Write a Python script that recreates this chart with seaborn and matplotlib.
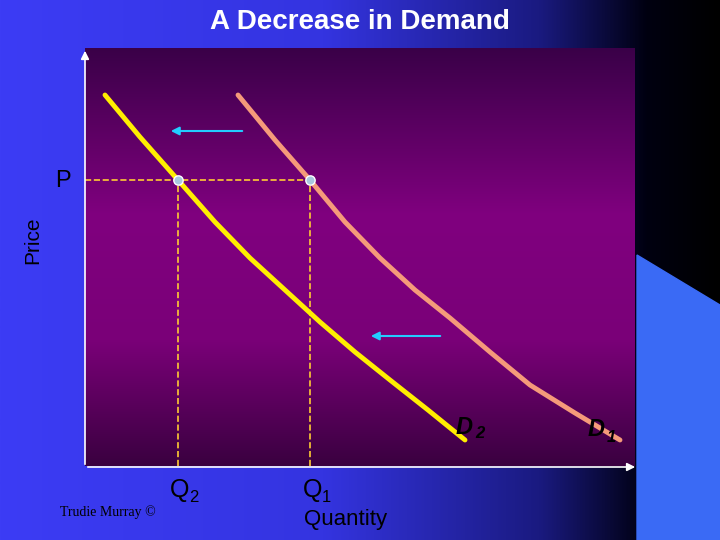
import numpy as np
import matplotlib
matplotlib.use("Agg")
import matplotlib.pyplot as plt
import seaborn as sns
from matplotlib.colors import LinearSegmentedColormap

sns.set_theme(style="white")
plt.rcParams['font.family'] = ['Liberation Sans', 'DejaVu Sans']

# curve points (quantity, price) in chart units
d2_q = [20, 55, 93, 130, 165, 200, 235, 270, 305, 343, 380]
d2_p = [371, 329, 286, 244, 208, 176, 144, 114, 86, 56, 26]
d1_q = [153, 190, 225, 260, 295, 330, 365, 405, 445, 490, 535]
d1_p = [371, 326, 286, 244, 208, 176, 148, 114, 81, 53, 26]
price_level = 286
q2, q1 = 93, 225
shift_arrows = [(160, 83, 335), (358, 283, 130)]  # (start q, end q, price)

fig = plt.figure(figsize=(7.2, 5.4), dpi=100)

# slide background
bg = fig.add_axes([0, 0, 1, 1])
grad = np.linspace(0, 1, 256).reshape(1, -1)
slide_cmap = LinearSegmentedColormap.from_list(
    "slide", [(0, "#3c3cf5"), (0.45, "#3434e0"), (0.75, "#1a1a80"), (0.9, "#000010"), (1, "#000000")])
bg.imshow(grad, aspect="auto", cmap=slide_cmap, extent=[0, 720, 540, 0])
bg.fill([637, 720, 720, 637], [255, 305, 540, 540], color="#3a6af5", zorder=2)
bg.set_xlim(0, 720)
bg.set_ylim(540, 0)
bg.axis("off")

# plot area
ax = fig.add_axes([85 / 720, 74 / 540, 550 / 720, 418 / 540])
vgrad = np.linspace(0, 1, 256).reshape(-1, 1)
plot_cmap = LinearSegmentedColormap.from_list(
    "plot", [(0, "#3a0048"), (0.4, "#80007f"), (0.7, "#7a0078"), (1, "#3a0040")])
ax.imshow(vgrad, aspect="auto", cmap=plot_cmap, extent=[0, 550, 0, 418], zorder=0)
ax.set_xlim(0, 550)
ax.set_ylim(0, 418)
ax.axis("off")

sns.lineplot(x=d1_q, y=d1_p, ax=ax, color="#f59a7a", lw=3.5, sort=False, zorder=3)
sns.lineplot(x=d2_q, y=d2_p, ax=ax, color="#ffee00", lw=3.5, sort=False, zorder=4)

ax.plot([0, q1], [price_level, price_level], ls="--", color="#ffcc33", lw=1.2, zorder=2)
ax.plot([q2, q2], [0, price_level], ls="--", color="#ffcc33", lw=1.2, zorder=2)
ax.plot([q1, q1], [0, price_level], ls="--", color="#ffcc33", lw=1.2, zorder=2)
ax.scatter([q2, q1], [price_level, price_level], s=45, color="#a8c8e0",
           edgecolor="#ffffff", lw=1, zorder=5)

for x0, x1, y in shift_arrows:
    ax.annotate("", xy=(x1, y), xytext=(x0, y),
                arrowprops=dict(arrowstyle="-|>", color="#22ccff", lw=1.5), zorder=6)

# overlay for text and axis arrows
top = fig.add_axes([0, 0, 1, 1])
top.set_xlim(0, 720)
top.set_ylim(540, 0)
top.axis("off")
top.patch.set_alpha(0)

top.annotate("", xy=(85, 48), xytext=(85, 467),
             arrowprops=dict(arrowstyle="-|>", color="white", lw=1.2))
top.annotate("", xy=(638, 467), xytext=(85, 467),
             arrowprops=dict(arrowstyle="-|>", color="white", lw=1.2))

tk = dict(color="black", fontsize=18)
top.text(360, 22, "A Decrease in Demand", ha="center", va="center",
         fontsize=20, fontweight="bold", color="white")
top.text(63, 181, "P", ha="center", va="center", fontsize=17, color="black")
top.text(33, 240, "Price", ha="center", va="center", fontsize=15, rotation=90, color="black")
top.text(170, 490, "Q", ha="left", va="center", **tk)
top.text(189, 497, "2", ha="left", va="center", fontsize=12, color="black")
top.text(303, 490, "Q", ha="left", va="center", **tk)
top.text(322, 497, "1", ha="left", va="center", fontsize=12, color="black")
top.text(346, 519, "Quantity", ha="center", va="center", fontsize=16, color="black")
top.text(456, 427, "D", ha="left", va="center", fontsize=17, fontweight="bold", style="italic", color="black")
top.text(475, 434, "2", ha="left", va="center", fontsize=12, fontweight="bold", style="italic", color="black")
top.text(588, 430, "D", ha="left", va="center", fontsize=17, fontweight="bold", style="italic", color="black")
top.text(607, 437, "1", ha="left", va="center", fontsize=12, fontweight="bold", style="italic", color="black")
top.text(108, 512, "Trudie Murray ©", ha="center", va="center", fontsize=10,
         family="Liberation Serif", color="black")

fig.savefig("out.png", dpi=100)
